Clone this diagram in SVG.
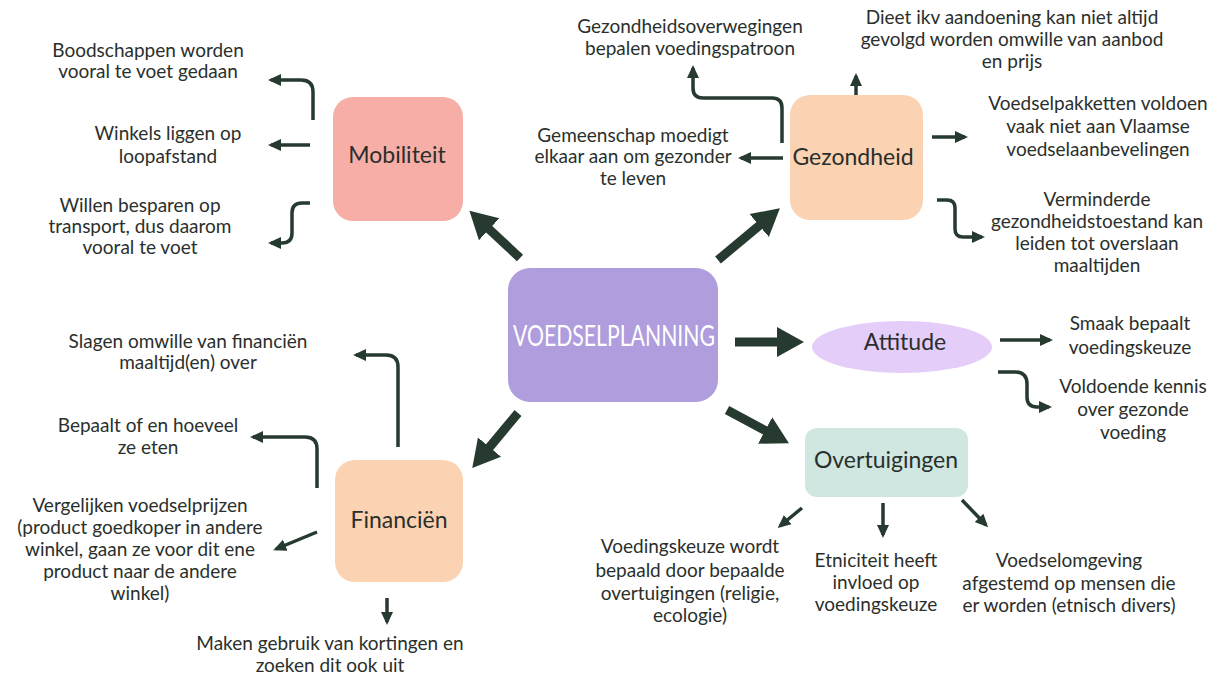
<svg xmlns="http://www.w3.org/2000/svg" width="1216" height="675" viewBox="0 0 1216 675">
<defs>
<style>
.t{font-family:Lato,"Open Sans","Liberation Sans",sans-serif;font-size:19px;fill:#2a2f2c;text-anchor:middle}
.n{font-family:Lato,"Open Sans","Liberation Sans",sans-serif;font-size:23px;fill:#2a2f2c;text-anchor:middle}
.thin{fill:none;stroke:#263a30;stroke-width:3.5;marker-end:url(#ah)}
.thick{fill:none;stroke:#263a30;stroke-width:9;marker-end:url(#ahb)}
</style>
<marker id="ah" markerUnits="userSpaceOnUse" markerWidth="14" markerHeight="14" viewBox="0 0 14 14" refX="10" refY="7" orient="auto"><path d="M0,1 L13,7 L0,13 z" fill="#263a30"/></marker>
<marker id="ahb" markerUnits="userSpaceOnUse" markerWidth="28" markerHeight="32" viewBox="0 0 28 32" refX="18" refY="16" orient="auto"><path d="M0,1 L27,16 L0,31 z" fill="#263a30"/></marker>
</defs>
<rect width="1216" height="675" fill="#ffffff"/>

<g id="voedselplanning">
<rect x="508" y="268" width="210" height="134" rx="22" fill="#af9ddd"/>
<text x="614" y="346" font-family="Lato,'Liberation Sans',sans-serif" font-size="28" fill="#ffffff" text-anchor="middle" textLength="202" lengthAdjust="spacingAndGlyphs">VOEDSELPLANNING</text>
</g>
<g id="mobiliteit">
<rect x="333" y="97" width="130" height="124" rx="20" fill="#f7aea6"/>
<text class="n" x="397" y="163">Mobiliteit</text>
</g>
<g id="gezondheid">
<rect x="790" y="95" width="133" height="125" rx="20" fill="#fbd3b2"/>
<text class="n" x="853" y="165">Gezondheid</text>
</g>
<g id="attitude">
<ellipse cx="902" cy="347" rx="90" ry="26" fill="#e4cdf9"/>
<text class="n" x="905" y="350">Attitude</text>
</g>
<g id="overtuigingen">
<rect x="805" y="428" width="163" height="69" rx="12" fill="#cfe7e0"/>
<text class="n" x="886" y="468">Overtuigingen</text>
</g>
<g id="financien">
<rect x="335" y="460" width="128" height="122" rx="20" fill="#fbd3b2"/>
<text class="n" x="399" y="528">Financiën</text>
</g>

<g id="t-mob1"><text class="t" x="148" y="57">Boodschappen worden</text><text class="t" x="148" y="78">vooral te voet gedaan</text></g>
<g id="t-mob2"><text class="t" x="168" y="140">Winkels liggen op</text><text class="t" x="168" y="163">loopafstand</text></g>
<g id="t-mob3"><text class="t" x="140" y="212">Willen besparen op</text><text class="t" x="140" y="233">transport, dus daarom</text><text class="t" x="140" y="254">vooral te voet</text></g>

<g id="t-gez1"><text class="t" x="690" y="33">Gezondheidsoverwegingen</text><text class="t" x="690" y="55">bepalen voedingspatroon</text></g>
<g id="t-gez2"><text class="t" x="1012" y="24">Dieet ikv aandoening kan niet altijd</text><text class="t" x="1012" y="46">gevolgd worden omwille van aanbod</text><text class="t" x="1012" y="68">en prijs</text></g>
<g id="t-gez3"><text class="t" x="633" y="142">Gemeenschap moedigt</text><text class="t" x="633" y="163">elkaar aan om gezonder</text><text class="t" x="633" y="185">te leven</text></g>
<g id="t-gez4"><text class="t" x="1098" y="110">Voedselpakketten voldoen</text><text class="t" x="1098" y="133">vaak niet aan Vlaamse</text><text class="t" x="1098" y="156">voedselaanbevelingen</text></g>
<g id="t-gez5"><text class="t" x="1097" y="206">Verminderde</text><text class="t" x="1097" y="228">gezondheidstoestand kan</text><text class="t" x="1097" y="250">leiden tot overslaan</text><text class="t" x="1097" y="272">maaltijden</text></g>

<g id="t-att1"><text class="t" x="1130" y="330">Smaak bepaalt</text><text class="t" x="1130" y="354">voedingskeuze</text></g>
<g id="t-att2"><text class="t" x="1133" y="393">Voldoende kennis</text><text class="t" x="1133" y="416">over gezonde</text><text class="t" x="1133" y="439">voeding</text></g>

<g id="t-ovt1"><text class="t" x="690" y="553">Voedingskeuze wordt</text><text class="t" x="690" y="577">bepaald door bepaalde</text><text class="t" x="690" y="600">overtuigingen (religie,</text><text class="t" x="690" y="622">ecologie)</text></g>
<g id="t-ovt2"><text class="t" x="876" y="567">Etniciteit heeft</text><text class="t" x="876" y="589">invloed op</text><text class="t" x="876" y="611">voedingskeuze</text></g>
<g id="t-ovt3"><text class="t" x="1069" y="567">Voedselomgeving</text><text class="t" x="1069" y="590">afgestemd op mensen die</text><text class="t" x="1069" y="612">er worden (etnisch divers)</text></g>

<g id="t-fin1"><text class="t" x="188" y="348">Slagen omwille van financiën</text><text class="t" x="188" y="369">maaltijd(en) over</text></g>
<g id="t-fin2"><text class="t" x="148" y="432">Bepaalt of en hoeveel</text><text class="t" x="148" y="454">ze eten</text></g>
<g id="t-fin3"><text class="t" x="140" y="512">Vergelijken voedselprijzen</text><text class="t" x="140" y="534">(product goedkoper in andere</text><text class="t" x="140" y="556">winkel, gaan ze voor dit ene</text><text class="t" x="140" y="578">product naar de andere</text><text class="t" x="140" y="600">winkel)</text></g>
<g id="t-fin4"><text class="t" x="330" y="650">Maken gebruik  van kortingen en</text><text class="t" x="330" y="672">zoeken dit ook uit</text></g>

<g id="connectors">
<path class="thick" d="M520,258 L476,217"/>
<path class="thick" d="M718,260 L773,214"/>
<path class="thick" d="M735,342 L795,342"/>
<path class="thick" d="M727,410 L781,439"/>
<path class="thick" d="M518,413 L478,461"/>

<path class="thin" d="M313,120 V92 Q313,80 301,80 H271"/>
<path class="thin" d="M310,145 H271"/>
<path class="thin" d="M310,203 H302 Q292,203 292,213 V233 Q292,243 282,243 H271"/>

<path class="thin" d="M782,143 V108 Q782,98 772,98 H703 Q693,98 693,88 V68"/>
<path class="thin" d="M856,95 V76"/>
<path class="thin" d="M783,158 H741"/>
<path class="thin" d="M932,137 H965"/>
<path class="thin" d="M937,200 H947 Q955,200 955,208 V229 Q955,237 963,237 H982"/>

<path class="thin" d="M1000,340 H1050"/>
<path class="thin" d="M998,372 H1015 Q1027,372 1027,384 V397 Q1027,407 1037,407 H1049"/>

<path class="thin" d="M802,508 L780,526"/>
<path class="thin" d="M883,503 V535"/>
<path class="thin" d="M962,500 L986,525"/>

<path class="thin" d="M398,447 V367 Q398,355 386,355 H356"/>
<path class="thin" d="M317,488 V449 Q317,437 305,437 H253"/>
<path class="thin" d="M317,532 L276,549"/>
<path class="thin" d="M387,598 V622"/>
</g>
</svg>
